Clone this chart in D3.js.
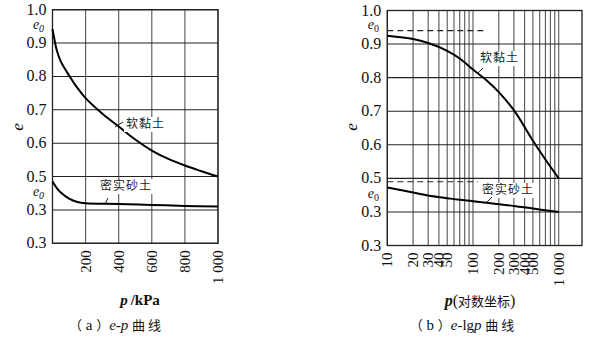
<!DOCTYPE html>
<html>
<head>
<meta charset="utf-8">
<script src="https://cdn.jsdelivr.net/npm/d3@7"></script>
<style>
  body { margin: 0; background: #fff; }
  svg { display: block; }
  .num { font-family: "Liberation Serif", "DejaVu Serif", serif; font-size: 16px; fill: #111; }
  .cjk { font-family: "Noto Sans CJK SC", sans-serif; font-size: 12px; fill: #222; }
</style>
</head>
<body>
<svg id="chart" width="596" height="343"></svg>
<script>
// e-p and e-lgp curves, two panels side by side

// y axis (same for both panels) - labels are as printed in the source figure
var eTicks = [1.0, 0.9, 0.8, 0.7, 0.6, 0.5, 0.4, 0.3];
var eLabels = ["1.0", "0.9", "0.8", "0.7", "0.6", "0.5", "0.3", "0.3"];

// (a) linear p
var pTicksA = [200, 400, 600, 800, 1000];
var pLabelsA = ["200", "400", "600", "800", "1 000"];
var clayA_p = [0, 10, 25, 50, 100, 150, 200, 300, 400, 500, 600, 700, 800, 900, 1000];
var clayA_e = [0.942, 0.915, 0.880, 0.845, 0.803, 0.766, 0.735, 0.689, 0.650, 0.611, 0.578, 0.553, 0.533, 0.516, 0.500];
var sandA_p = [0, 25, 50, 100, 150, 200, 400, 600, 800, 1000];
var sandA_e = [0.485, 0.466, 0.452, 0.434, 0.424, 0.420, 0.418, 0.415, 0.412, 0.410];

// (b) log p
var pGridB = [10, 20, 30, 40, 50, 60, 70, 80, 90, 100, 200, 300, 400, 500, 600, 700, 800, 900, 1000];
var pTicksB = [10, 20, 30, 40, 50, 100, 200, 300, 400, 500, 1000];
var pLabelsB = ["10", "20", "30", "40", "50", "100", "200", "300", "400", "500", "1 000"];
var clayB_p = [10, 20, 30, 50, 70, 100, 150, 200, 300, 500, 700, 1000];
var clayB_e = [0.925, 0.915, 0.903, 0.880, 0.857, 0.824, 0.788, 0.757, 0.703, 0.612, 0.556, 0.500];
var sandB_p = [10, 20, 30, 50, 70, 100, 200, 300, 500, 700, 1000];
var sandB_e = [0.473, 0.458, 0.449, 0.441, 0.436, 0.432, 0.423, 0.418, 0.410, 0.405, 0.400];
var e0B = [0.940, 0.490]; // dashed reference lines

var svg = d3.select("#chart");

function zip(ps, es) { return ps.map((p, i) => ({p: p, e: es[i]})); }

function drawPanel(cfg) {
    var g = svg.append("g");
    var x = cfg.x, y = cfg.y;
    var y0 = y.range()[0], y1 = y.range()[1];
    var x0 = x.range()[0];

    // vertical grid
    g.selectAll(".vg").data(cfg.grid).enter().append("line")
        .attr("x1", d => x(d)).attr("x2", d => x(d))
        .attr("y1", y1).attr("y2", y0)
        .style("stroke", "#555").style("stroke-width", 1.1);
    // horizontal grid
    g.selectAll(".hg").data(eTicks).enter().append("line")
        .attr("x1", x0).attr("x2", cfg.right)
        .attr("y1", d => y(d)).attr("y2", d => y(d))
        .style("stroke", "#222").style("stroke-width", 1.1);
    // frame
    g.append("rect")
        .attr("x", x0).attr("y", y1)
        .attr("width", cfg.right - x0).attr("height", y0 - y1)
        .style("fill", "none").style("stroke", "#222").style("stroke-width", 1.3);

    // y tick labels
    g.selectAll(".yl").data(eTicks).enter().append("text")
        .attr("class", "num")
        .attr("x", x0 - 6).attr("y", d => y(d) + 5)
        .attr("text-anchor", "end")
        .text((d, i) => eLabels[i]);

    // x tick labels, rotated
    g.selectAll(".xl").data(cfg.ticks).enter().append("text")
        .attr("class", "num")
        .style("font-size", "15px")
        .attr("transform", d => "translate(" + (x(d) + 5) + "," + (y0 + 7) + ") rotate(-90)")
        .attr("text-anchor", "end")
        .text((d, i) => cfg.labels[i]);

    // y axis title
    g.append("text").attr("class", "num")
        .attr("transform", "translate(" + (x0 - 30) + ",127) rotate(-90)")
        .attr("text-anchor", "middle")
        .style("font-style", "italic").style("font-size", "17px")
        .text("e");

    // dashed e0 lines
    if (cfg.dash) {
        cfg.dash.forEach(function(dv, i) {
            g.append("line")
                .attr("x1", x0).attr("x2", cfg.dashEnd[i])
                .attr("y1", y(dv)).attr("y2", y(dv))
                .style("stroke", "#222").style("stroke-width", 1.1)
                .style("stroke-dasharray", "6,4");
        });
    }

    // curves
    var line = d3.line().x(d => x(d.p)).y(d => y(d.e)).curve(d3.curveCatmullRom.alpha(0.5));
    [cfg.clay, cfg.sand].forEach(function(data) {
        g.append("path").datum(data)
            .attr("d", line)
            .style("fill", "none").style("stroke", "#000").style("stroke-width", 2);
    });

    // e0 labels
    cfg.e0.forEach(function(pos) {
        var t = g.append("text").attr("class", "num")
            .attr("x", x0 - 14).attr("y", pos)
            .attr("text-anchor", "middle")
            .style("font-style", "italic").style("font-size", "14px");
        t.append("tspan").text("e");
        t.append("tspan").attr("dy", 3).style("font-size", "10px")
            .style("font-style", cfg.subItalic ? "italic" : "normal").text("0");
    });

    // curve labels with white background and leader
    cfg.notes.forEach(function(n) {
        var bw = n.text.length * 13 + 4;
        g.append("rect").attr("x", n.tx - 2).attr("y", n.ty - 11)
            .attr("width", bw).attr("height", 15).style("fill", "#fff");
        g.append("text").attr("class", "cjk")
            .attr("x", n.tx).attr("y", n.ty)
            .style("letter-spacing", "1px")
            .text(n.text);
        g.append("line")
            .attr("x1", n.l[0]).attr("y1", n.l[1]).attr("x2", n.l[2]).attr("y2", n.l[3])
            .style("stroke", "#222").style("stroke-width", 1);
    });
}

// panel (a)
var xA = d3.scaleLinear().domain([0, 1000]).range([52.5, 218]);
var yA = d3.scaleLinear().domain([0.3, 1.0]).range([243.3, 9.7]);
drawPanel({
    x: xA, y: yA, right: 218,
    grid: pTicksA, ticks: pTicksA, labels: pLabelsA,
    clay: zip(clayA_p, clayA_e), sand: zip(sandA_p, sandA_e),
    e0: [29, 196], subItalic: true,
    notes: [
        {text: "软黏土", tx: 126, ty: 128, l: [123, 122, 115, 127]},
        {text: "密实砂土", tx: 100, ty: 190, l: [108, 198, 105, 204]}
    ]
});

// panel (b)
var xB = d3.scaleLog().domain([10, 1000]).range([387.3, 558.7]);
var yB = d3.scaleLinear().domain([0.3, 1.0]).range([245.5, 10.5]);
drawPanel({
    x: xB, y: yB, right: 582,
    grid: pGridB, ticks: pTicksB, labels: pLabelsB,
    clay: zip(clayB_p, clayB_e), sand: zip(sandB_p, sandB_e),
    e0: [29, 198], subItalic: false,
    dash: e0B, dashEnd: [485, 478],
    notes: [
        {text: "软黏土", tx: 480, ty: 62, l: [483, 68, 477, 74]},
        {text: "密实砂土", tx: 482, ty: 194, l: [492, 197, 487, 202]}
    ]
});

// axis titles
var tA = svg.append("text").attr("class", "num")
    .attr("x", 140).attr("y", 305).attr("text-anchor", "middle")
    .style("font-size", "15px");
tA.append("tspan").style("font-style", "italic").style("font-weight", "bold").text("p");
tA.append("tspan").attr("dx", 3).style("font-weight", "bold").text("/kPa");

var tB = svg.append("text").attr("class", "num")
    .attr("x", 480).attr("y", 306).attr("text-anchor", "middle")
    .style("font-size", "16px");
tB.append("tspan").style("font-style", "italic").style("font-weight", "bold").text("p");
tB.append("tspan").text("(");
tB.append("tspan").style("font-family", "Noto Sans CJK SC").style("font-size", "13px").text("对数坐标");
tB.append("tspan").text(")");

// captions
function caption(cx, parts) {
    var t = svg.append("text").attr("class", "num")
        .attr("x", cx).attr("y", 330).attr("text-anchor", "middle")
        .style("font-size", "15px");
    parts.forEach(function(p) {
        var s = t.append("tspan").text(p[0]);
        if (p[1] === "i") s.style("font-style", "italic");
        if (p[1] === "c") s.style("font-family", "Noto Sans CJK SC").style("font-size", "13px");
    });
}
caption(115, [["（", "c"], [" a ", ""], ["）", "c"], ["e-p", "i"], ["  ", ""], ["曲 线", "c"]]);
caption(462, [["（", "c"], [" b ", ""], ["）", "c"], ["e", "i"], ["-lg", ""], ["p", "i"], ["  ", ""], ["曲 线", "c"]]);
</script>
</body>
</html>
